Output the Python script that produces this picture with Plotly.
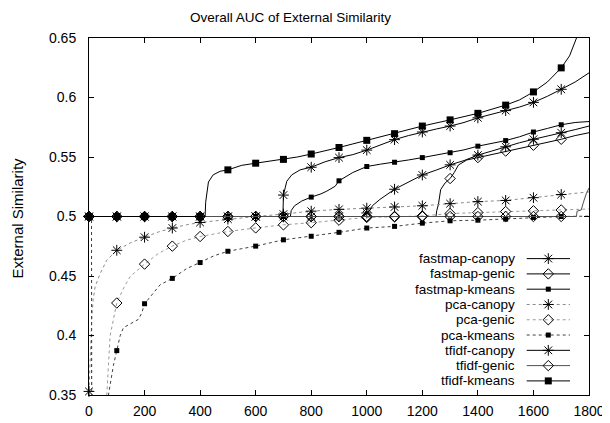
import plotly.graph_objects as go

# ---------------- data ----------------
x_fastmap_canopy = [0, 100, 200, 300, 400, 500, 600, 700, 800, 900, 990, 1000, 1010, 1020, 1047, 1100, 1150, 1200, 1250, 1300,
                    1350, 1400, 1450, 1500, 1550, 1600, 1650, 1700, 1750, 1800]
y_fastmap_canopy = [0.5, 0.5, 0.5, 0.5, 0.5, 0.5, 0.5, 0.5, 0.5, 0.5, 0.5, 0.503, 0.5047, 0.509, 0.5143, 0.5229, 0.529, 0.5349, 0.539, 0.5434,
                    0.547, 0.5516, 0.555, 0.5586, 0.562, 0.5649, 0.5675, 0.5704, 0.573, 0.576]

x_fastmap_genic = [0, 100, 200, 300, 400, 500, 600, 700, 800, 900, 1000, 1100, 1200, 1249, 1252, 1258, 1266, 1282, 1300, 1315,
                   1330, 1360, 1400, 1450, 1500, 1550, 1600, 1650, 1700, 1750, 1800]
y_fastmap_genic = [0.5, 0.5, 0.5, 0.5, 0.5, 0.5, 0.5, 0.5, 0.5, 0.5, 0.5, 0.5, 0.5, 0.5, 0.505, 0.5102, 0.5226, 0.5282, 0.5319, 0.537,
                   0.5433, 0.5475, 0.5495, 0.552, 0.555, 0.5575, 0.5599, 0.5625, 0.5649, 0.568, 0.5704]

x_fastmap_kmeans = [0, 100, 200, 300, 400, 500, 600, 700, 725, 728, 740, 766, 800, 835, 856, 886, 900, 950, 1000, 1050, 1100,
                    1150, 1200, 1250, 1300, 1350, 1400, 1450, 1500, 1550, 1600, 1650, 1700, 1750, 1800]
y_fastmap_kmeans = [0.5, 0.5, 0.5, 0.5, 0.5, 0.5, 0.5, 0.5, 0.5, 0.505, 0.509, 0.513, 0.5163, 0.519, 0.5213, 0.5254, 0.530, 0.537, 0.542, 0.544, 0.5456,
                    0.5475, 0.5495, 0.5515, 0.5536, 0.556, 0.5591, 0.5615, 0.5638, 0.567, 0.571, 0.574, 0.5771, 0.579, 0.5798]

x_pca_canopy = [0, 3, 6, 10, 15, 22, 40, 64, 100, 150, 200, 250, 300, 350, 400, 500, 600, 700, 800, 900, 1000, 1100, 1200,
                1300, 1400, 1500, 1600, 1700, 1800]
y_pca_canopy = [0.353, 0.37, 0.395, 0.415, 0.43, 0.441, 0.452, 0.4633, 0.4716, 0.478, 0.4826, 0.487, 0.4903, 0.493, 0.495, 0.4978, 0.5, 0.502, 0.5045, 0.506, 0.507, 0.508, 0.509,
                0.5108, 0.5125, 0.5135, 0.5158, 0.5185, 0.5207]

x_pca_genic = [0, 9, 10, 55, 64, 76, 88, 100, 125, 148, 200, 250, 300, 350, 400, 500, 600, 700, 800, 900, 1000, 1100, 1200,
               1300, 1400, 1500, 1600, 1700, 1800]
y_pca_genic = [0.5, 0.5, 0.25, 0.30, 0.35, 0.3997, 0.4136, 0.4273, 0.44, 0.4495, 0.46, 0.469, 0.4751, 0.480, 0.4832, 0.4874, 0.4904, 0.493, 0.4948, 0.4969, 0.4992, 0.4997, 0.5005,
               0.5025, 0.5033, 0.5042, 0.5048, 0.5055, 0.5063]

x_pca_kmeans = [0, 9, 10, 60, 70, 88, 100, 112, 124, 148, 178, 190, 200, 256, 300, 350, 400, 450, 500, 600, 700, 800, 900,
                1000, 1100, 1200, 1300, 1400, 1500, 1600, 1700, 1800]
y_pca_kmeans = [0.5, 0.5, 0.25, 0.30, 0.35, 0.3749, 0.3873, 0.3997, 0.4066, 0.4094, 0.4136, 0.419, 0.4267, 0.4426, 0.448, 0.456, 0.4613, 0.467, 0.4708, 0.4751, 0.4804, 0.4834, 0.4867,
                0.4903, 0.4917, 0.4944, 0.4964, 0.4969, 0.4978, 0.4992, 0.5, 0.5003]

x_tfidf_canopy = [0, 100, 200, 300, 400, 500, 600, 698, 700, 712, 730, 760, 800, 850, 900, 950, 1000, 1050, 1100, 1150, 1200,
                  1250, 1300, 1350, 1400, 1450, 1500, 1550, 1600, 1650, 1700, 1750, 1800]
y_tfidf_canopy = [0.5, 0.5, 0.5, 0.5, 0.5, 0.5, 0.5, 0.5, 0.518, 0.5296, 0.535, 0.5392, 0.5414, 0.546, 0.5495, 0.552, 0.5558, 0.560, 0.5646, 0.568, 0.571,
                  0.5735, 0.576, 0.579, 0.5829, 0.586, 0.589, 0.592, 0.5959, 0.601, 0.6069, 0.613, 0.6207]

x_tfidf_genic = [0, 100, 200, 300, 400, 500, 600, 700, 800, 900, 1000, 1100, 1200, 1300, 1400, 1500, 1600, 1700, 1755, 1757,
                 1772, 1780, 1790, 1800]
y_tfidf_genic = [0.5, 0.5, 0.5, 0.5, 0.5, 0.5, 0.5, 0.5, 0.5, 0.5, 0.5, 0.5, 0.5, 0.5, 0.5, 0.5, 0.5, 0.5, 0.5, 0.5045,
                 0.5055, 0.512, 0.519, 0.524]

x_tfidf_kmeans = [0, 100, 200, 300, 400, 418, 420, 425, 430, 447, 472, 500, 550, 600, 650, 700, 750, 800, 850, 900, 950, 1000,
                  1100, 1200, 1300, 1400, 1500, 1550, 1600, 1650, 1700, 1730, 1755, 1765]
y_tfidf_kmeans = [0.5, 0.5, 0.5, 0.5, 0.5, 0.5, 0.512, 0.522, 0.529, 0.535, 0.538, 0.5392, 0.543, 0.5448, 0.5465, 0.548, 0.550, 0.5525, 0.555, 0.558, 0.561, 0.564,
                  0.5696, 0.576, 0.5812, 0.5867, 0.5936, 0.598, 0.6047, 0.613, 0.6249, 0.635, 0.65, 0.67]

series_names = ["fastmap-canopy", "fastmap-genic", "fastmap-kmeans", "pca-canopy", "pca-genic",
                "pca-kmeans", "tfidf-canopy", "tfidf-genic", "tfidf-kmeans"]

x_ticks = [0, 200, 400, 600, 800, 1000, 1200, 1400, 1600, 1800]
y_ticks = [0.35, 0.4, 0.45, 0.5, 0.55, 0.6, 0.65]
y_tick_labels = ["0.35", "0.4", "0.45", "0.5", "0.55", "0.6", "0.65"]

title_text = "Overall AUC of External Similarity"
y_title_text = "External Similarity"

# ---------------- styles ----------------
FONT = "Liberation Sans, Arial, Helvetica, sans-serif"
styles = {
    "fastmap-canopy": dict(color="black", dash="solid", symbol="asterisk-open", size=9),
    "fastmap-genic": dict(color="black", dash="solid", symbol="diamond-open", size=8),
    "fastmap-kmeans": dict(color="black", dash="solid", symbol="square", size=5),
    "pca-canopy": dict(color="#8a8a8a", dash="dot", symbol="asterisk-open", size=9),
    "pca-genic": dict(color="#9a9a9a", dash="dot", symbol="diamond-open", size=8),
    "pca-kmeans": dict(color="#404040", dash="dot", symbol="square", size=5),
    "tfidf-canopy": dict(color="black", dash="solid", symbol="asterisk-open", size=9),
    "tfidf-genic": dict(color="#505050", dash="solid", symbol="diamond-open", size=8),
    "tfidf-kmeans": dict(color="black", dash="solid", symbol="square", size=7),
}
data = {
    "fastmap-canopy": (x_fastmap_canopy, y_fastmap_canopy),
    "fastmap-genic": (x_fastmap_genic, y_fastmap_genic),
    "fastmap-kmeans": (x_fastmap_kmeans, y_fastmap_kmeans),
    "pca-canopy": (x_pca_canopy, y_pca_canopy),
    "pca-genic": (x_pca_genic, y_pca_genic),
    "pca-kmeans": (x_pca_kmeans, y_pca_kmeans),
    "tfidf-canopy": (x_tfidf_canopy, y_tfidf_canopy),
    "tfidf-genic": (x_tfidf_genic, y_tfidf_genic),
    "tfidf-kmeans": (x_tfidf_kmeans, y_tfidf_kmeans),
}

fig = go.Figure()

for name in series_names:
    xs, ys = data[name]
    st = styles[name]
    fig.add_trace(go.Scatter(x=xs, y=ys, mode="lines", showlegend=False,
                             line=dict(color=st["color"], width=1, dash=st["dash"]),
                             hoverinfo="skip"))
    mx = [x for x in xs if x % 100 == 0 and x <= 1700]
    my = [y for x, y in zip(xs, ys) if x % 100 == 0 and x <= 1700]
    is_open = st["symbol"].endswith("open")
    fig.add_trace(go.Scatter(x=mx, y=my, mode="markers", showlegend=False, cliponaxis=False,
                             marker=dict(symbol=st["symbol"], size=st["size"], color="black",
                                         line=dict(color="black", width=1 if is_open else 0))))

# ---------------- custom legend (gnuplot style: text left, sample right) ----------------
L_TEXT_X = 516.7
L_LINE_X0, L_LINE_X1, L_MARK_X = 526.7, 570, 548.3
L_ROW0, L_ROW_STEP = 261.7, 15.5
annotations = []
for i, name in enumerate(series_names):
    st = styles[name]
    yy = L_ROW0 + i * L_ROW_STEP
    is_open = st["symbol"].endswith("open")
    fig.add_trace(go.Scatter(x=[L_LINE_X0, L_LINE_X1], y=[yy, yy], mode="lines", xaxis="x2", yaxis="y2",
                             showlegend=False, hoverinfo="skip",
                             line=dict(color=st["color"], width=1, dash=st["dash"])))
    fig.add_trace(go.Scatter(x=[L_MARK_X], y=[yy], mode="markers", xaxis="x2", yaxis="y2",
                             showlegend=False, hoverinfo="skip", cliponaxis=False,
                             marker=dict(symbol=st["symbol"], size=st["size"], color="black",
                                         line=dict(color="black", width=1 if is_open else 0))))
    annotations.append(dict(x=L_TEXT_X, y=yy, xref="x2", yref="y2", text=name, showarrow=False,
                            xanchor="right", yanchor="middle",
                            font=dict(family=FONT, size=13.5, color="black")))

# y-axis title and chart title (paper coordinates: plot area is 500 x 362 px)
annotations.append(dict(x=(17 - 89) / 500, y=(400 - 221) / 362, xref="paper", yref="paper", text=y_title_text,
                        showarrow=False, textangle=-90, xanchor="center", yanchor="middle",
                        font=dict(family=FONT, size=15, color="black")))
annotations.append(dict(x=(290 - 89) / 500, y=(400 - 17) / 362, xref="paper", yref="paper", text=title_text,
                        showarrow=False, xanchor="center", yanchor="middle",
                        font=dict(family=FONT, size=13.5, color="black")))

axis_common = dict(showgrid=False, zeroline=False, showline=True, linecolor="black", linewidth=1,
                   mirror="ticks", ticks="inside", ticklen=5, tickcolor="black", tickwidth=1,
                   tickfont=dict(family=FONT, size=14, color="black"))

# the page body adds an 8 px offset, so margins are shifted by 8 px to land the
# plot area at 89..589 x 38..400 in the window
fig.update_layout(
    width=610, height=423,
    margin=dict(l=81, r=29, t=30, b=31, pad=0),
    paper_bgcolor="white", plot_bgcolor="white",
    showlegend=False,
    xaxis=dict(range=[0, 1800], tickvals=x_ticks, ticklabelstandoff=3, **axis_common),
    yaxis=dict(range=[0.35, 0.65], tickvals=y_ticks, ticktext=y_tick_labels, ticklabelstandoff=9, **axis_common),
    xaxis2=dict(overlaying="x", range=[89, 589], visible=False, fixedrange=True),
    yaxis2=dict(overlaying="y", range=[400, 38], visible=False, fixedrange=True),
    annotations=annotations,
)

fig.write_html("out.html")
